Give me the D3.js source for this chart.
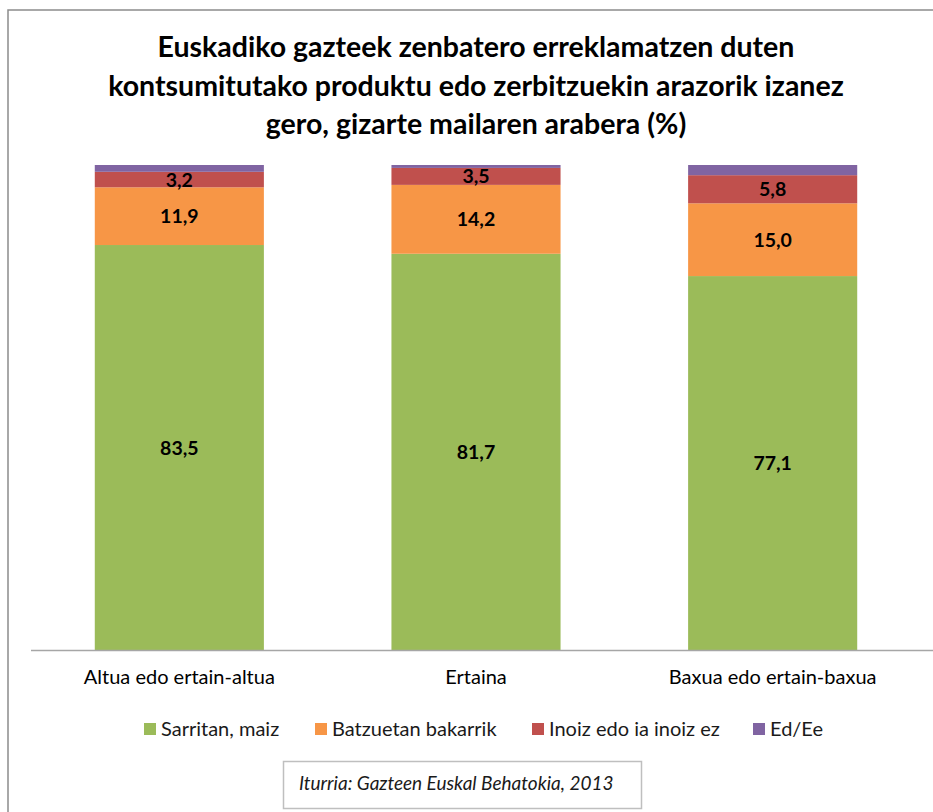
<!DOCTYPE html>
<html>
<head>
<meta charset="utf-8">
<script src="https://cdn.jsdelivr.net/npm/d3@7"></script>
<style>
  body { margin: 0; background: #fff; }
  svg { display: block; font-family: Lato, "Open Sans", sans-serif; }
</style>
</head>
<body>
<svg id="chart" width="933" height="812"></svg>
<script>
// data
var categories = ["Altua edo ertain-altua", "Ertaina", "Baxua edo ertain-baxua"];
var seriesNames = ["Sarritan, maiz", "Batzuetan bakarrik", "Inoiz edo ia inoiz ez", "Ed/Ee"];
var sarritan = [83.5, 81.7, 77.1];
var batzuetan = [11.9, 14.2, 15.0];
var inoiz = [3.2, 3.5, 5.8];
var eded = [1.4, 0.6, 2.1];
var colors = ["#9BBB59", "#F79646", "#C0504D", "#8064A2"];
var titleLines = ["Euskadiko gazteek zenbatero erreklamatzen duten",
                  "kontsumitutako produktu edo zerbitzuekin arazorik izanez",
                  "gero, gizarte mailaren arabera (%)"];
var sourceText = "Iturria: Gazteen Euskal Behatokia, 2013";

var svg = d3.select("#chart");

// outer frame
svg.append("rect")
    .attr("x", 8).attr("y", 10)
    .attr("width", 940).attr("height", 820)
    .attr("fill", "#fff")
    .attr("stroke", "#8c8c8c").attr("stroke-width", 1.5);

// title
svg.append("g").selectAll("text")
    .data(titleLines)
  .enter().append("text")
    .attr("x", 476)
    .attr("y", function(d, i) { return 57 + i * 38.5; })
    .attr("text-anchor", "middle")
    .attr("font-size", 28.5)
    .attr("font-weight", "bold")
    .attr("fill", "#000")
    .text(function(d) { return d; });

var rows = categories.map(function(c, i) {
  return {cat: c, s0: sarritan[i], s1: batzuetan[i], s2: inoiz[i], s3: eded[i]};
});
var keys = ["s0", "s1", "s2", "s3"];
var stacked = d3.stack().keys(keys)(rows);

var x = d3.scaleBand()
    .domain(categories)
    .range([31, 921])
    .paddingInner(0.43)
    .paddingOuter(0.215);

var y = d3.scaleLinear()
    .domain([0, 100])
    .range([650, 165]);

var layers = svg.append("g").selectAll("g")
    .data(stacked)
  .enter().append("g")
    .attr("fill", function(d, i) { return colors[i]; });

layers.selectAll("rect")
    .data(function(d) { return d; })
  .enter().append("rect")
    .attr("x", function(d) { return x(d.data.cat); })
    .attr("y", function(d) { return y(d[1]); })
    .attr("width", x.bandwidth())
    .attr("height", function(d) { return y(d[0]) - y(d[1]); });

// value labels (not for Ed/Ee)
layers.filter(function(d, i) { return i < 3; })
  .selectAll("text")
    .data(function(d) { return d; })
  .enter().append("text")
    .attr("x", function(d) { return x(d.data.cat) + x.bandwidth() / 2; })
    .attr("y", function(d) { return (y(d[0]) + y(d[1])) / 2; })
    .attr("dy", "0.36em")
    .attr("text-anchor", "middle")
    .attr("font-size", 19.5)
    .attr("font-weight", "bold")
    .attr("fill", "#000")
    .text(function(d) { return d3.format(".1f")(d[1] - d[0]).replace(".", ","); });

// x axis
var xAxis = svg.append("g")
    .attr("transform", "translate(0,650)")
    .call(d3.axisBottom(x).tickSize(0).tickPadding(20));
xAxis.select(".domain").attr("stroke", "#a6a6a6").attr("stroke-width", 1.3)
    .attr("d", "M31,0.5H933");
xAxis.selectAll("text")
    .attr("font-family", "Lato, 'Open Sans', sans-serif")
    .attr("font-size", 20)
    .attr("fill", "#000");

// legend
var legendX = [144, 315, 532, 753];
var legend = svg.append("g").selectAll("g")
    .data(seriesNames)
  .enter().append("g")
    .attr("transform", function(d, i) { return "translate(" + legendX[i] + ",729)"; });
legend.append("rect")
    .attr("x", 0).attr("y", -6)
    .attr("width", 12).attr("height", 12)
    .attr("fill", function(d, i) { return colors[i]; });
legend.append("text")
    .attr("x", 17).attr("dy", "0.36em")
    .attr("font-size", 20)
    .attr("fill", "#1a1a1a")
    .text(function(d) { return d; });

// source box
svg.append("rect")
    .attr("x", 283.5).attr("y", 761.5)
    .attr("width", 358).attr("height", 47)
    .attr("fill", "#fff")
    .attr("stroke", "#bfbfbf").attr("stroke-width", 1.5);
svg.append("text")
    .attr("x", 299).attr("y", 783)
    .attr("dy", "0.36em")
    .attr("font-size", 19)
    .attr("font-style", "italic")
    .attr("fill", "#1a1a1a")
    .text(sourceText);
</script>
</body>
</html>
